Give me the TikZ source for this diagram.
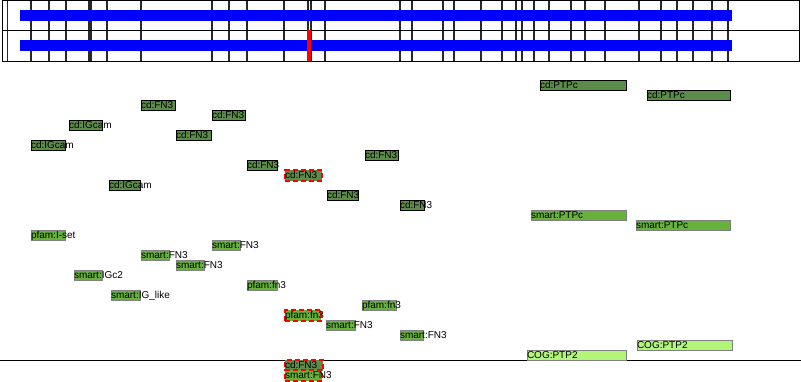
\documentclass[tikz,border=0pt]{standalone}
\usepackage{fontspec}
\setmainfont{Liberation Sans}
\definecolor{cdfill}{RGB}{92,140,74}
\definecolor{smfill}{RGB}{102,178,58}
\definecolor{cogfill}{RGB}{178,245,120}
\definecolor{tickc}{RGB}{40,40,40}
\newcommand\dom[6]{\node[#1] (#2) at (#3,#4) {\hbox to #5pt{#6\hss}};}
\begin{document}
\begin{tikzpicture}[x=1pt,y=-1pt,
  every node/.style={font=\fontsize{10}{11}\selectfont},
  dom/.style={anchor=north west, inner xsep=0pt, inner ysep=0pt, outer sep=0pt,
    minimum height=10.5pt, text height=8.8pt, text depth=1.7pt, line width=1pt},
  cdbox/.style={dom, fill=cdfill, draw=black},
  smbox/.style={dom, fill=smfill, draw=gray},
  cogbox/.style={dom, fill=cogfill, draw=gray},
  sel/.style={draw=red, line width=2pt, dash pattern=on 5pt off 3pt},
  tick/.style={draw=tickc, line width=1.3pt},
  frame/.style={draw=black, line width=1pt}]
\useasboundingbox (0,0) rectangle (801,381);
% ruler ticks
\foreach \t in {7.5,31,49,66,89,91,107,141,212,229,247,284,308,311,325,400,412,443,454,481,502,516,522,534,549,571,585,605,639,661,677,693,712,728}
  \draw[tick] (\t,0.5) -- (\t,61);
\draw[frame] (2,0.5) rectangle (799.5,61);
\draw[frame] (2,30.5) -- (799.5,30.5);
% tracks
\fill[blue] (20,10) rectangle (732,21);
\fill[blue] (20,40) rectangle (732,51);
\fill[red] (307,30) rectangle (311,61);
% baseline
\draw[frame] (0,360.5) -- (801,360.5);
% cd domains
\dom{cdbox}{c1}{540}{80}{86}{cd:PTPc}
\dom{cdbox}{c2}{647}{90}{83}{cd:PTPc}
\dom{cdbox}{c3}{141}{100}{34}{cd:FN3}
\dom{cdbox}{c4}{212}{110}{33}{cd:FN3}
\dom{cdbox}{c5}{69}{120}{33}{cd:IGcam}
\dom{cdbox}{c6}{176}{130}{35}{cd:FN3}
\dom{cdbox}{c7}{31}{140}{34}{cd:IGcam}
\dom{cdbox}{c8}{365}{150}{33}{cd:FN3}
\dom{cdbox}{c9}{247}{160}{30}{cd:FN3}
\dom{cdbox,sel}{c10}{285}{170}{37}{cd:FN3}
\dom{cdbox}{c11}{109}{180}{31}{cd:IGcam}
\dom{cdbox}{c12}{327}{190}{31}{cd:FN3}
\dom{cdbox}{c13}{400}{200}{24}{cd:FN3}
% smart / pfam domains
\dom{smbox}{s1}{531}{210}{95}{smart:PTPc}
\dom{smbox}{s2}{636}{220}{94}{smart:PTPc}
\dom{smbox}{s3}{31}{230}{34}{pfam:I-set}
\dom{smbox}{s4}{212}{240}{28}{smart:FN3}
\dom{smbox}{s5}{141}{250}{28}{smart:FN3}
\dom{smbox}{s6}{176}{260}{28}{smart:FN3}
\dom{smbox}{s7}{74}{270}{28}{smart:IGc2}
\dom{smbox}{s8}{247}{280}{30}{pfam:fn3}
\dom{smbox}{s9}{111}{290}{29}{smart:IG\_like}
\dom{smbox}{s10}{362}{300}{34}{pfam:fn3}
\dom{smbox,sel}{s11}{285}{310}{36}{pfam:fn3}
\dom{smbox}{s12}{326}{320}{29}{smart:FN3}
\dom{smbox}{s13}{400}{330}{23}{smart:FN3}
% COG domains
\dom{cogbox}{g1}{637}{340}{95}{COG:PTP2}
\dom{cogbox}{g2}{527}{350}{99}{COG:PTP2}
% selected below baseline
\dom{cdbox,sel}{c14}{285}{360}{38}{cd:FN3}
\dom{smbox,sel}{s14}{285}{370}{37}{smart:FN3}
\end{tikzpicture}
\end{document}
